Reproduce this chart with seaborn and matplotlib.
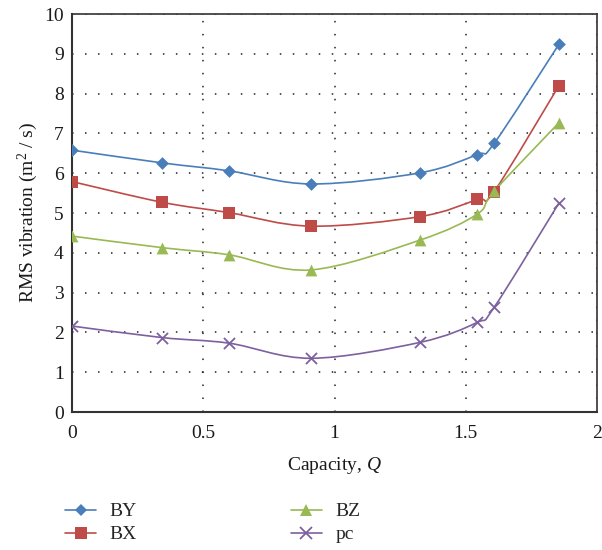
import numpy as np
import pandas as pd
import matplotlib
matplotlib.use("Agg")
from matplotlib import pyplot as plt
from matplotlib.path import Path
from matplotlib.patches import PathPatch
from matplotlib.lines import Line2D
import seaborn as sns

# Data
capacity = [0.0, 0.343, 0.598, 0.910, 1.326, 1.543, 1.608, 1.855]
by_vals = [6.58, 6.26, 6.06, 5.73, 6.01, 6.47, 6.75, 9.24]
bx_vals = [5.79, 5.27, 5.01, 4.67, 4.91, 5.34, 5.54, 8.20]
bz_vals = [4.42, 4.13, 3.95, 3.57, 4.32, 4.97, 5.55, 7.27]
pc_vals = [2.16, 1.87, 1.73, 1.35, 1.75, 2.25, 2.63, 5.25]

series_names = ["BY", "BX", "BZ", "pc"]
series_colors = {"BY": "#4A7EBB", "BX": "#BE4B48", "BZ": "#98B954", "pc": "#7D60A0"}
series_markers = {"BY": "D", "BX": "s", "BZ": "^", "pc": "x"}
marker_sizes = {"BY": 6.5, "BX": 8.5, "BZ": 8.5, "pc": 8}

sns.set_theme(style="white")
plt.rcParams["font.family"] = ["Liberation Serif", "DejaVu Serif"]
plt.rcParams["mathtext.fontset"] = "custom"
plt.rcParams["mathtext.rm"] = "Liberation Serif"
plt.rcParams["mathtext.it"] = "Liberation Serif:italic"

df = pd.DataFrame({
    "Q": capacity * 4,
    "value": by_vals + bx_vals + bz_vals + pc_vals,
    "series": [s for s in series_names for _ in capacity],
})


def smooth_path(xs, ys):
    """Excel-like smoothed line as cubic Bezier segments."""
    pts = np.column_stack([xs, ys])
    verts = [pts[0]]
    codes = [Path.MOVETO]
    n = len(pts)
    for i in range(n - 1):
        p0 = pts[i - 1] if i > 0 else pts[i]
        p1 = pts[i]
        p2 = pts[i + 1]
        p3 = pts[i + 2] if i + 2 < n else pts[i + 1]
        c1 = p1 + (p2 - p0) / 6.0
        c2 = p2 - (p3 - p1) / 6.0
        verts += [c1, c2, p2]
        codes += [Path.CURVE4] * 3
    return Path(verts, codes)


fig = plt.figure(figsize=(6.02, 5.5), dpi=100)
ax = fig.add_axes([0.1196, 0.2509, 0.8721, 0.7236])

for name in series_names:
    sub = df[df["series"] == name]
    ax.add_patch(PathPatch(smooth_path(sub["Q"].values, sub["value"].values),
                           facecolor="none", edgecolor=series_colors[name],
                           linewidth=1.2, zorder=2))

for name in series_names:
    sub = df[df["series"] == name]
    sns.scatterplot(data=sub, x="Q", y="value", ax=ax, color=series_colors[name],
                    marker=series_markers[name], s=marker_sizes[name] ** 2,
                    linewidth=1.3 if name == "pc" else 0, edgecolor=series_colors[name],
                    zorder=3, legend=False)

ax.set_xlim(0, 2)
ax.set_ylim(0, 10)
ax.set_xticks([0, 0.5, 1, 1.5, 2])
ax.set_xticklabels(["0", "0.5", "1", "1.5", "2"])
ax.set_yticks(range(0, 11))
ax.tick_params(axis="both", length=0, labelsize=14, labelcolor="#1a1a1a")
ax.tick_params(axis="x", pad=9)
ax.tick_params(axis="y", pad=6)

ax.grid(True, color="#222222", linestyle=(0, (1, 7.5)), linewidth=1.1)
for sp in ["left", "bottom"]:
    ax.spines[sp].set_color("#333333")
    ax.spines[sp].set_linewidth(1.5)
for sp in ["top", "right"]:
    ax.spines[sp].set_color("#333333")
    ax.spines[sp].set_linewidth(1.2)

ax.set_xlabel("Capacity, $Q$", fontsize=14, labelpad=10, color="#1a1a1a")
ax.set_ylabel("RMS vibration (m$^{2}$ / s)", fontsize=14, labelpad=3, color="#1a1a1a")

handles = [Line2D([0], [0], color=series_colors[n], marker=series_markers[n],
                  markersize=marker_sizes[n], markeredgewidth=1.3 if n == "pc" else 0,
                  linewidth=1.2) for n in series_names]
fig.legend(handles, series_names, loc="lower left", bbox_to_anchor=(0.108, 0.012),
           ncol=2, frameon=False, fontsize=14, handlelength=1.6, columnspacing=7.9,
           labelspacing=0.28, handletextpad=0.7, borderpad=0, borderaxespad=0)

fig.savefig("out.png", dpi=100)
